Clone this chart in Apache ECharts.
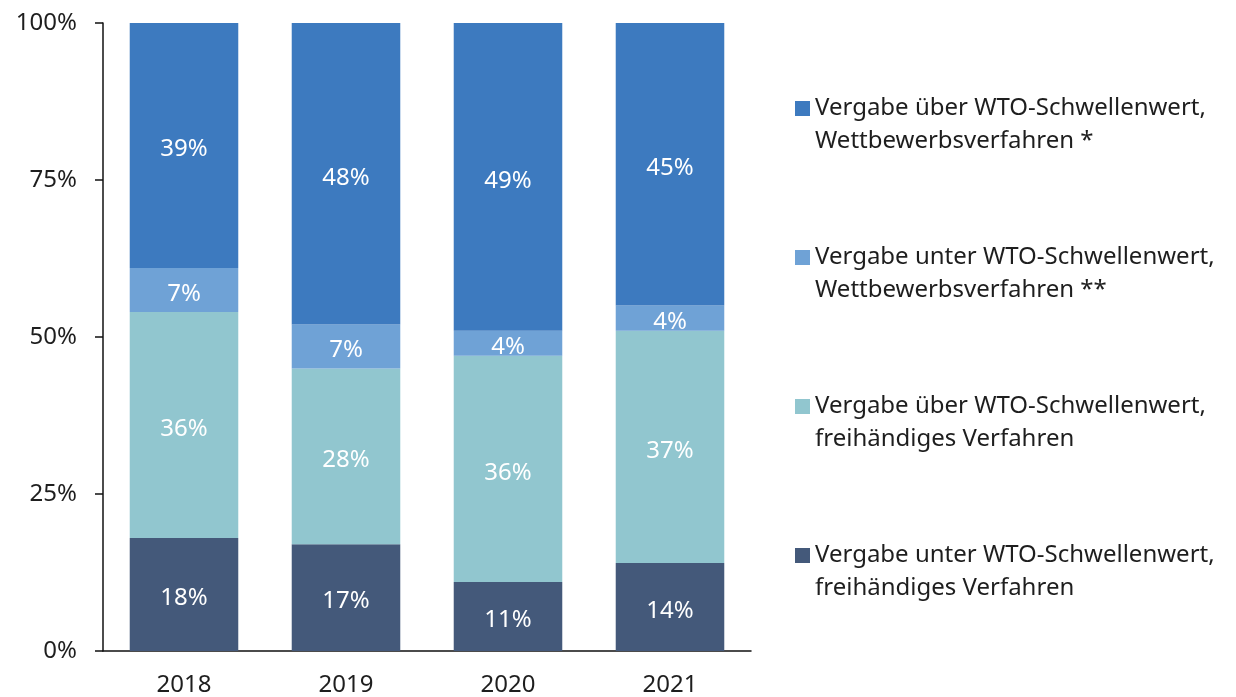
<!DOCTYPE html>
<html>
<head>
<meta charset="utf-8">
<script src="https://cdn.jsdelivr.net/npm/echarts@6/dist/echarts.min.js"></script>
<style>
  html, body { margin: 0; padding: 0; background: #fff; }
  #charts { width: 1236px; height: 697px; }
</style>
</head>
<body>
<div id="charts"></div>
<script>
// Jahre
var years = ['2018', '2019', '2020', '2021'];
// Anteile in %, von unten nach oben gestapelt
var unterFrei = [18, 17, 11, 14];
var ueberFrei = [36, 28, 36, 37];
var unterWett = [7, 7, 4, 4];
var ueberWett = [39, 48, 49, 45];
var yTicks = [0, 25, 50, 75, 100];

var names = [
    'Vergabe unter WTO-Schwellenwert,\nfreihändiges Verfahren',
    'Vergabe über WTO-Schwellenwert,\nfreihändiges Verfahren',
    'Vergabe unter WTO-Schwellenwert,\nWettbewerbsverfahren **',
    'Vergabe über WTO-Schwellenwert,\nWettbewerbsverfahren *'
];
var colors = ['#44597a', '#91c6cf', '#6fa2d6', '#3d7abf'];
var font = 'Noto Sans';

var myChart = echarts.init(document.getElementById('charts'));

function barSeries(i, data) {
    return {
        name: names[i],
        type: 'bar',
        stack: 'total',
        barCategoryGap: '33%',
        itemStyle: { color: colors[i] },
        label: {
            show: true,
            color: '#fff',
            fontFamily: font,
            fontSize: 24,
            offset: [0, 4],
            formatter: '{c}%'
        },
        data: data
    };
}

var option = {
    animation: false,
    grid: { left: 103, right: 485, top: 23, bottom: 44 },
    legend: {
        orient: 'vertical',
        left: 795,
        top: 59,
        padding: 0,
        itemWidth: 15,
        itemHeight: 15,
        itemGap: 50,
        itemTextGap: 7,
        data: names.slice().reverse(),
        icon: 'rect',
        // leere erste Zeile, damit das Symbol auf Höhe der ersten Textzeile sitzt
        formatter: function (name) { return '\n' + name; },
        textStyle: {
            fontFamily: font,
            fontSize: 24,
            color: '#1e1e1e',
            lineHeight: 33
        }
    },
    xAxis: {
        type: 'category',
        data: years,
        axisLine: { lineStyle: { color: '#111', width: 1.5 } },
        axisTick: { show: false },
        axisLabel: { fontFamily: font, fontSize: 24, color: '#1e1e1e', margin: 22 }
    },
    yAxis: {
        type: 'value',
        min: 0,
        max: 100,
        interval: 25,
        axisLine: { show: true, lineStyle: { color: '#111', width: 1.5 } },
        axisTick: { show: true, length: 8, lineStyle: { color: '#111', width: 1.5 } },
        splitLine: { show: false },
        axisLabel: {
            fontFamily: font,
            fontSize: 24,
            color: '#1e1e1e',
            margin: 26,
            formatter: function (v) { return yTicks.indexOf(v) >= 0 ? v + '%' : ''; }
        }
    },
    series: [
        barSeries(0, unterFrei),
        barSeries(1, ueberFrei),
        barSeries(2, unterWett),
        barSeries(3, ueberWett)
    ]
};
myChart.setOption(option);
</script>
</body>
</html>
